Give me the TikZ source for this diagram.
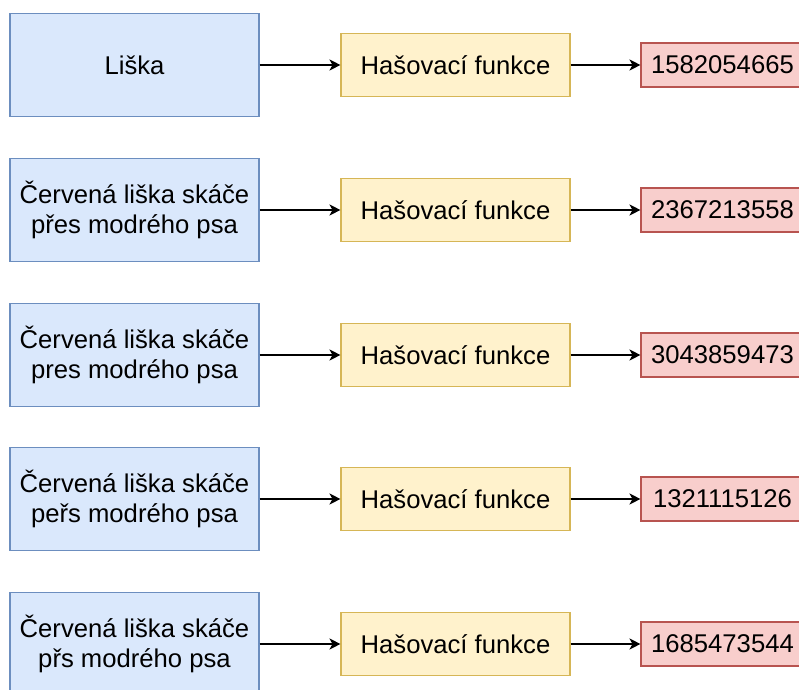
\documentclass[tikz,border=0pt]{standalone}
\usepackage{fontspec}
\setmainfont{Liberation Sans}
\usetikzlibrary{positioning,arrows.meta}
\definecolor{vstupfill}{HTML}{DAE8FC}
\definecolor{vstupline}{HTML}{6C8EBF}
\definecolor{hashfill}{HTML}{FFF2CC}
\definecolor{hashline}{HTML}{D6B656}
\definecolor{vysfill}{HTML}{F8CECC}
\definecolor{vysline}{HTML}{B85450}
\tikzset{
  vstup/.style={draw=vstupline, fill=vstupfill, line width=0.6pt, minimum width=4.98cm, minimum height=2.06cm, align=center, inner sep=0pt},
  hashbox/.style={draw=hashline, fill=hashfill, line width=0.6pt, minimum width=4.58cm, minimum height=1.26cm, inner sep=0pt},
  vysledek/.style={draw=vysline, fill=vysfill, line width=0.6pt, minimum width=3.2cm, minimum height=0.88cm, inner sep=0pt},
  sipka/.style={-{Stealth[length=0.22cm,width=0.22cm,inset=0.06cm]}, line width=0.75pt}
}
\begin{document}
\begin{tikzpicture}[font=\fontsize{14.6}{17}\selectfont]
\clip (0,0) rectangle (15.98,-13.8);
\foreach \i/\y/\t/\h in {1/-1.30/{Liška}/1582054665,
    2/-4.20/{Červená liška skáče\\přes modrého psa}/2367213558,
    3/-7.10/{Červená liška skáče\\pres modrého psa}/3043859473,
    4/-9.98/{Červená liška skáče\\peřs modrého psa}/1321115126,
    5/-12.88/{Červená liška skáče\\přs modrého psa}/1685473544}{
  \node (b\i) at (2.69,\y) [vstup] {\t};
  \node (h\i) at (9.11,\y) [hashbox] {Hašovací funkce};
  \node (r\i) at (14.42,\y) [vysledek] {\hspace*{0.06cm}\h};
  \draw[sipka] (b\i) -- (h\i);
  \draw[sipka] (h\i) -- (r\i);
}
\end{tikzpicture}
\end{document}
